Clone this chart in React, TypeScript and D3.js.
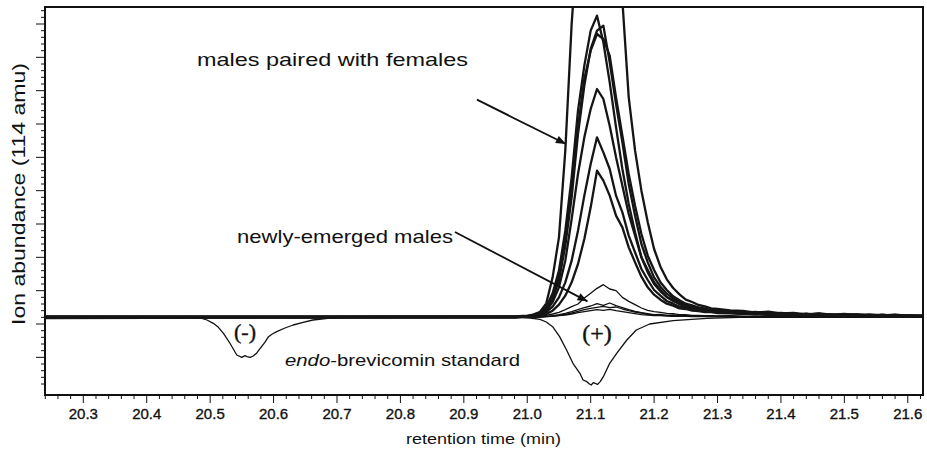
import React from 'react';
import * as d3 from 'd3';

// retention time grid (min) shared by the sample traces
const retention = [
  20.24, 20.98,
  21.0, 21.01, 21.02, 21.03, 21.04, 21.05, 21.06, 21.07, 21.08, 21.09,
  21.1, 21.11, 21.12, 21.13, 21.14, 21.15, 21.16, 21.17, 21.18, 21.19,
  21.2, 21.21, 21.22, 21.23, 21.24, 21.25, 21.26, 21.27, 21.28, 21.29,
  21.3,
  21.32, 21.34, 21.36, 21.38, 21.4, 21.42, 21.44, 21.46, 21.48, 21.5, 21.52, 21.54, 21.56, 21.58, 21.6, 21.63,
];

// males paired with females
const pairedA = [0.3, 0.3,
  0.5, 0.8, 1.6, 4.2, 12, 24, 50, 88, 115, 130,
  138, 142, 140, 131, 112, 95, 66, 50, 38, 28.5,
  20.5, 15.2, 11.4, 8.8, 6.9, 5.3, 4.6, 3.7, 3.3, 2.7,
  2.5,
  2.1, 1.9, 1.4, 1.7, 1.2, 1.3, 0.9, 1.2, 0.8, 1.0, 0.7, 0.9, 0.6, 0.8, 0.5, 0.6];
const pairedB = [0, 0.1,
  0.3, 0.8, 1.5, 3.1, 7.2, 14, 26, 42, 62, 75.5,
  86, 90.5, 82.5, 70.5, 57, 44.5, 34, 25.5, 18, 13.5,
  10, 7.8, 6.1, 4.9, 4.1, 3.2, 3.0, 2.4, 2.3, 1.9,
  1.9,
  1.5, 1.6, 1.1, 1.3, 0.9, 1.1, 0.7, 1.0, 0.6, 0.8, 0.9, 0.5, 0.7, 0.4, 0.6, 0.4];
const pairedC = [-0.2, 0,
  0.2, 0.5, 1.1, 2.4, 5.6, 11, 21.5, 36, 55, 69.5,
  80.5, 86, 87.5, 76.5, 64, 52.5, 40, 30.5, 22, 16.5,
  12, 9.2, 7.1, 5.7, 4.5, 3.9, 3.1, 2.9, 2.3, 2.2,
  1.8,
  1.7, 1.3, 1.5, 1.0, 1.2, 0.8, 1.1, 0.7, 0.9, 0.5, 0.8, 0.6, 0.4, 0.7, 0.3, 0.5];
const pairedD = [0.1, 0.2,
  0.2, 0.6, 1.3, 2.8, 6.2, 12.5, 23, 38.5, 57, 71.5,
  80, 85, 83.5, 78.5, 66, 54.5, 43, 33.5, 25, 18.5,
  14.2, 10.5, 8.2, 6.3, 5.1, 4.1, 3.6, 2.9, 2.7, 2.2,
  2.1,
  1.8, 1.4, 1.6, 1.1, 1.3, 1.0, 0.8, 1.1, 0.6, 0.9, 0.7, 0.5, 0.8, 0.4, 0.6, 0.3];
const pairedE = [-0.1, 0,
  0.2, 0.4, 0.9, 2.0, 4.6, 9, 17, 29.5, 43, 54,
  62.5, 68.5, 65.5, 57.5, 48, 39.5, 31, 24.5, 18, 14.2,
  10.5, 8.2, 6.1, 5.1, 3.9, 3.5, 2.8, 2.6, 2.1, 2.0,
  1.7,
  1.5, 1.2, 1.4, 0.9, 1.1, 0.7, 1.0, 0.6, 0.8, 0.5, 0.7, 0.4, 0.6, 0.3, 0.5, 0.3];
const pairedF = [0, 0.1,
  0.2, 0.4, 0.8, 1.6, 3.2, 6, 10.5, 17, 26, 36.5,
  46, 54, 49.5, 44.5, 36.5, 31.5, 24.5, 19.5, 14.5, 11.2,
  8.2, 6.5, 4.9, 4.1, 3.2, 2.9, 2.3, 2.2, 1.8, 1.8,
  1.5,
  1.4, 1.1, 1.2, 0.8, 1.0, 0.6, 0.9, 0.5, 0.7, 0.4, 0.6, 0.5, 0.3, 0.5, 0.2, 0.4];
const pairedG = [0.2, 0.1,
  0.1, 0.2, 0.5, 1.0, 2.0, 3.8, 6.5, 10.5, 16, 23.5,
  33, 44, 41, 36.5, 30.5, 27, 21, 16.5, 12.2, 9,
  6.8, 5.3, 4.1, 3.5, 2.7, 2.5, 2.0, 1.9, 1.6, 1.6,
  1.3,
  1.2, 1.0, 1.1, 0.7, 0.9, 0.5, 0.8, 0.4, 0.7, 0.3, 0.5, 0.4, 0.2, 0.4, 0.3, 0.2];

// newly-emerged males
const newlyA = [0, 0,
  0.1, 0.2, 0.3, 0.6, 1.0, 1.5, 2.3, 3.2, 4.0, 5.8,
  7.2, 8.7, 9.8, 8.5, 8.0, 6.0, 4.8, 3.8, 2.8, 2.1,
  1.7, 1.5, 1.2, 1.1, 0.8, 0.8, 0.6, 0.6, 0.5, 0.5,
  0.4,
  0.5, 0.3, 0.4, 0.3, 0.4, 0.2, 0.3, 0.2, 0.3, 0.2, 0.3, 0.2, 0.2, 0.3, 0.1, 0.2];
const newlyB = [0, 0,
  0, 0.1, 0.2, 0.3, 0.5, 0.8, 1.2, 1.7, 2.3, 2.9,
  3.4, 4.1, 3.6, 4.3, 3.5, 2.9, 2.3, 1.8, 1.4, 1.1,
  0.8, 0.9, 0.6, 0.7, 0.5, 0.5, 0.4, 0.5, 0.3, 0.4,
  0.3,
  0.4, 0.2, 0.3, 0.2, 0.3, 0.1, 0.3, 0.2, 0.2, 0.1, 0.2, 0.2, 0.1, 0.2, 0.1, 0.1];
const newlyC = [0, 0,
  0, 0.1, 0.1, 0.2, 0.4, 0.6, 0.9, 1.3, 1.8, 2.3,
  2.7, 3.0, 3.3, 2.9, 3.1, 2.5, 2.0, 1.6, 1.3, 0.9,
  0.8, 0.6, 0.6, 0.4, 0.5, 0.3, 0.4, 0.3, 0.3, 0.2,
  0.3,
  0.2, 0.3, 0.1, 0.2, 0.2, 0.1, 0.2, 0.1, 0.2, 0.1, 0.1, 0.2, 0.1, 0.1, 0.1, 0.1];
const newlyD = [0, 0,
  0, 0, 0.1, 0.2, 0.3, 0.5, 0.7, 1.0, 1.4, 1.7,
  2.0, 2.3, 2.1, 2.4, 2.0, 1.7, 1.4, 1.1, 0.8, 0.7,
  0.5, 0.5, 0.4, 0.3, 0.3, 0.3, 0.2, 0.3, 0.2, 0.2,
  0.2,
  0.1, 0.2, 0.1, 0.1, 0.2, 0.1, 0.1, 0.1, 0.1, 0.1, 0.1, 0.1, 0.1, 0.1, 0.1, 0.1];

// endo-brevicomin standard (plotted inverted)
const stdTimes = [
  20.24, 20.47, 20.484, 20.495, 20.505, 20.513, 20.521, 20.531, 20.542, 20.55,
  20.555, 20.558, 20.563, 20.568, 20.573, 20.581, 20.586, 20.592, 20.598, 20.605,
  20.618, 20.631, 20.645, 20.662, 20.689, 20.72, 20.99, 21.005, 21.02, 21.03,
  21.04, 21.051, 21.062, 21.072, 21.083, 21.088, 21.094, 21.098, 21.101, 21.104,
  21.107, 21.111, 21.115, 21.12, 21.13, 21.141, 21.157, 21.172, 21.193, 21.23,
  21.283, 21.335, 21.63,
];
const stdValues = [
  0, 0, -0.2, -0.8, -1.8, -3.0, -4.8, -7.7, -11.3, -12.0,
  -11.5, -11.8, -12.0, -11.6, -10.8, -8.8, -7.6, -5.8, -5.0, -4.3,
  -3.2, -2.3, -1.6, -0.8, -0.2, 0, 0, -0.2, -0.6, -1.4,
  -2.8, -5.8, -9.8, -13.8, -16.8, -18.8, -19.3, -20.0, -20.3, -19.6,
  -19.8, -20.1, -19.3, -17.8, -13.8, -10.8, -6.8, -3.8, -2.0, -1.0,
  -0.3, 0, 0,
];

const pairedSeries = [pairedA, pairedB, pairedC, pairedD, pairedE, pairedF, pairedG];
const newlySeries = [newlyA, newlyB, newlyC, newlyD];

const W = 927;
const H = 450;
const left = 45, right = 923, top = 7, bottom = 395;
const font = '"Liberation Sans", Arial, Helvetica, sans-serif';
const serif = '"Liberation Serif", "Times New Roman", serif';

export default function App() {
  const x = d3.scaleLinear().domain([20.2396, 21.624]).range([left, right]);
  const y = d3.scaleLinear().domain([-23.3, 93.1]).range([bottom, top]);

  const line = d3.line<[number, number]>()
    .x(d => x(d[0]))
    .y(d => y(d[1]));

  const toPts = (vals: number[]) => retention.map((t, i) => [t, vals[i]] as [number, number]);

  const xTicks = d3.range(Math.round(20.24 * 50), Math.round(21.62 * 50) + 1).map(k => k / 50);
  const yTicks = d3.range(-20, 93, 2);

  // annotation anchors in data units
  const arrow1 = { x1: 20.9207, y1: 65.3, x2: 21.061, y2: 52 };
  const arrow2 = { x1: 20.886, y1: 25.6, x2: 21.095, y2: 4.8 };

  const arrowHead = (a: { x1: number; y1: number; x2: number; y2: number }) => {
    const px2 = x(a.x2), py2 = y(a.y2);
    const ang = Math.atan2(py2 - y(a.y1), px2 - x(a.x1));
    const len = 10, half = 4;
    const bx = px2 - len * Math.cos(ang), by = py2 - len * Math.sin(ang);
    const nx = -Math.sin(ang) * half, ny = Math.cos(ang) * half;
    return `M${px2},${py2}L${bx + nx},${by + ny}L${bx - nx},${by - ny}Z`;
  };

  return (
    <svg width={W} height={H} style={{ position: 'absolute', left: 0, top: 0, background: '#fff' }}>
      <defs>
        <clipPath id="plot">
          <rect x={left} y={top} width={right - left} height={bottom - top} />
        </clipPath>
      </defs>

      <g clipPath="url(#plot)" fill="none" strokeLinejoin="round">
        <path d={line(stdTimes.map((t, i) => [t, stdValues[i]] as [number, number])) || ''}
          stroke="#111" strokeWidth={1.3} />
        {newlySeries.map((s, i) => (
          <path key={'n' + i} d={line(toPts(s)) || ''} stroke="#111" strokeWidth={1.3} />
        ))}
        {pairedSeries.map((s, i) => (
          <path key={'p' + i} d={line(toPts(s)) || ''} stroke="#151515" strokeWidth={2.3} />
        ))}
      </g>

      {/* frame */}
      <rect x={left} y={top} width={right - left} height={bottom - top}
        fill="none" stroke="#111" strokeWidth={2} />

      {/* x ticks */}
      {xTicks.map(v => {
        const major = Math.round(v * 50) % 5 === 0;
        return (
          <line key={'xt' + v} x1={x(v)} x2={x(v)} y1={bottom} y2={bottom + (major ? 8 : 4)}
            stroke="#111" strokeWidth={1} />
        );
      })}
      {xTicks.filter(v => Math.round(v * 50) % 5 === 0).map(v => (
        <text key={'xl' + v} x={x(v)} y={419} textAnchor="middle" fontFamily={font} fontSize={15}
          fill="#111" stroke="#111" strokeWidth={0.35}>
          {v.toFixed(1)}
        </text>
      ))}

      {/* y ticks */}
      {yTicks.map(v => {
        const major = (v + 2) % 10 === 0;
        return (
          <line key={'yt' + v} x1={left - (major ? 9 : 4)} x2={left} y1={y(v)} y2={y(v)}
            stroke="#111" strokeWidth={1} />
        );
      })}

      {/* axis titles */}
      <text x={483.5} y={444} textAnchor="middle" fontFamily={font} fontSize={15}
        textLength={155} lengthAdjust="spacingAndGlyphs" fill="#111">retention time (min)</text>
      <text transform="translate(25,194) rotate(-90)" textAnchor="middle" fontFamily={font} fontSize={18}
        textLength={262} lengthAdjust="spacingAndGlyphs" fill="#111">Ion abundance (114 amu)</text>

      {/* annotations */}
      <text x={197} y={66} fontFamily={font} fontSize={19} textLength={271}
        lengthAdjust="spacingAndGlyphs" fill="#111">males paired with females</text>
      <text x={237} y={243} fontFamily={font} fontSize={19} textLength={216}
        lengthAdjust="spacingAndGlyphs" fill="#111">newly-emerged males</text>
      <text x={285} y={366} fontFamily={font} fontSize={17} textLength={235}
        lengthAdjust="spacingAndGlyphs" fill="#111">
        <tspan fontStyle="italic">endo</tspan>-brevicomin standard
      </text>
      <text x={245} y={339} textAnchor="middle" fontFamily={serif} fontSize={22} fill="#111"
        stroke="#111" strokeWidth={0.4}>(-)</text>
      <text x={597} y={341} textAnchor="middle" fontFamily={serif} fontSize={24} fill="#111"
        stroke="#111" strokeWidth={0.4}>(+)</text>

      {[arrow1, arrow2].map((a, i) => (
        <g key={'a' + i}>
          <line x1={x(a.x1)} y1={y(a.y1)} x2={x(a.x2)} y2={y(a.y2)} stroke="#111" strokeWidth={1.8} />
          <path d={arrowHead(a)} fill="#111" />
        </g>
      ))}
    </svg>
  );
}
